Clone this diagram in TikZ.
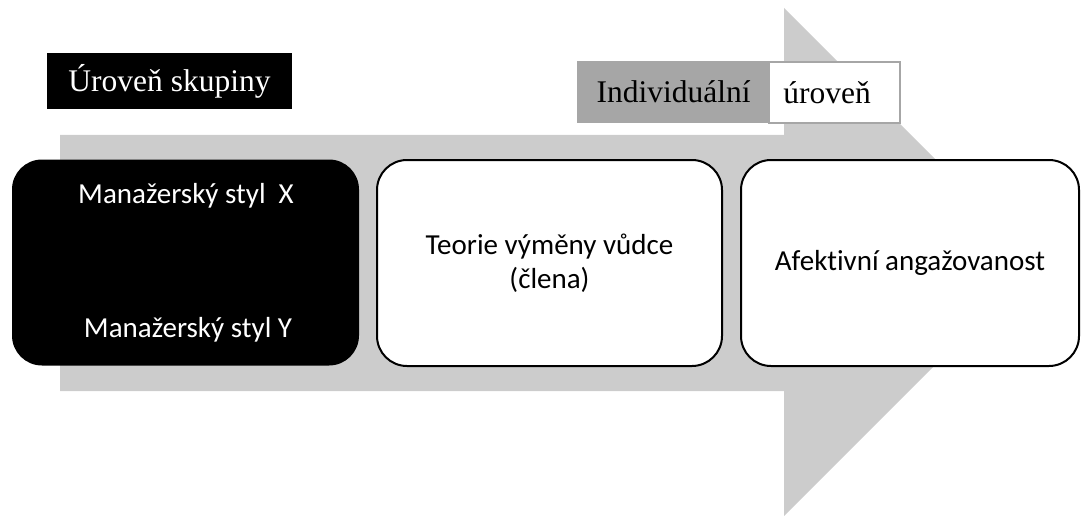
\documentclass[tikz,border=0pt]{standalone}
\usepackage{fontspec}
\setmainfont{Liberation Serif}
\newfontfamily\calib[Ligatures=NoCommon]{Carlito}
\definecolor{shaftgray}{RGB}{204,204,204}
\definecolor{labgray}{RGB}{166,166,166}
\begin{document}
\begin{tikzpicture}[x=1pt,y=-1pt,
  serl/.style={font=\fontsize{31.5}{36}\selectfont, inner sep=0pt, anchor=center},
  sanl/.style={font=\calib\fontsize{29}{34}\selectfont, inner sep=0pt, align=center},
  roundbox/.style={rounded corners=30pt, minimum width=#1, minimum height=206pt, inner sep=0pt},
  whitebox/.style={roundbox=#1, draw=black, line width=2pt, fill=white},
  darkbox/.style={roundbox=#1, fill=black},
]
\useasboundingbox (0,0) rectangle (1081,516);
% big arrow
\fill[shaftgray] (60,135) -- (784,135) -- (784,8) -- (1038,262) -- (784,516) -- (784,391) -- (60,391) -- cycle;
% boxes
\node[darkbox=347pt] (b1) at (185.5,262.5) {};
\node[whitebox=345pt] (b2) at (549.5,263) {};
\node[whitebox=338pt] (b3) at (910,263) {};
% box texts
\node[sanl, text=white] (x) at (186,196) {Manažerský styl\ \ X};
\node[sanl, text=white] (y) at (188,330) {Manažerský styl Y};
\node[sanl] (t2) at (549.5,263.5) {Teorie výměny vůdce\\(člena)};
\node[sanl] (t3) at (910,263) {Afektivní angažovanost};
% labels
\node[fill=black, minimum width=245pt, minimum height=56pt, inner sep=0pt] (l1) at (169.5,81) {};
\node[serl, text=white] (l1t) at (169.5,81) {Úroveň skupiny};
\node[fill=labgray, minimum width=193pt, minimum height=62pt, inner sep=0pt] (l2) at (673.5,92) {};
\node[serl] (l2t) at (673.5,92) {Individuální};
\node[fill=white, draw=labgray, line width=2pt, minimum width=131pt, minimum height=61pt, inner sep=0pt] (l3) at (834,93) {};
\node[serl] (l3t) at (827,93) {úroveň};
\end{tikzpicture}
\end{document}
